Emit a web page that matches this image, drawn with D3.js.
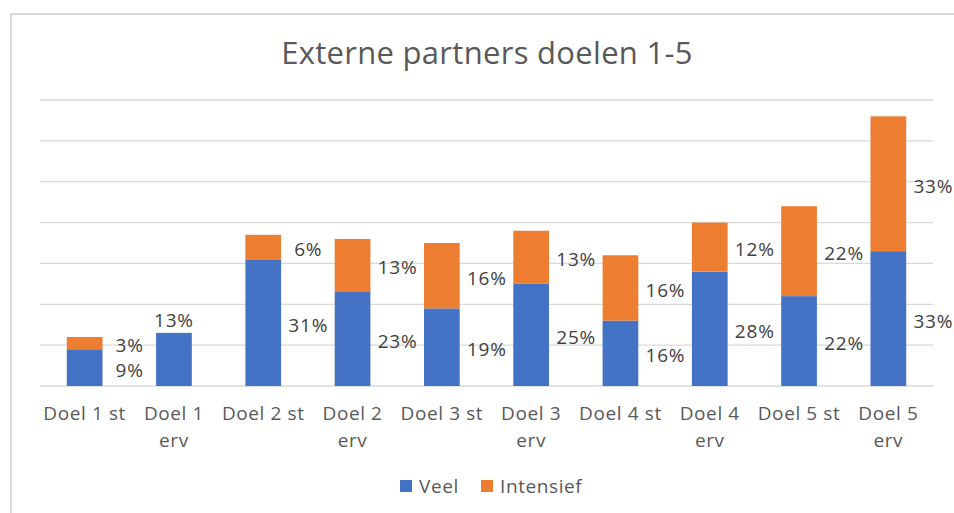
<!DOCTYPE html>
<html>
<head>
<meta charset="utf-8">
<script src="https://cdn.jsdelivr.net/npm/d3@7"></script>
<style>
  body { margin: 0; background: #fff; }
  text { font-family: "Open Sans", "DejaVu Sans", sans-serif; }
</style>
</head>
<body>
<script>
// categories + wrapped tick labels as they appear under the axis
var categories = ["d1st", "d1erv", "d2st", "d2erv", "d3st", "d3erv", "d4st", "d4erv", "d5st", "d5erv"];
var tickLabels = ["Doel 1 st", "Doel 1\nerv", "Doel 2 st", "Doel 2\nerv", "Doel 3 st",
                  "Doel 3\nerv", "Doel 4 st", "Doel 4\nerv", "Doel 5 st", "Doel 5\nerv"];

// percentages
var veel      = [9, 13, 31, 23, 19, 25, 16, 28, 22, 33];
var intensief = [3, 0, 6, 13, 16, 13, 16, 12, 22, 33];

var seriesNames = ["Veel", "Intensief"];
var seriesColours = ["#4472C4", "#ED7D31"];
var gridTicks = [0, 10, 20, 30, 40, 50, 60, 70];

var width = 954, height = 513;
var margin = {top: 100, right: 21, bottom: 127, left: 40};

var svg = d3.select("body").append("svg")
  .attr("width", width)
  .attr("height", height);

// chart frame (runs off the right and bottom edge in the screenshot)
svg.append("path")
  .attr("d", "M11," + height + "V14H" + width)
  .attr("fill", "none")
  .attr("stroke", "#d9d9d9")
  .attr("stroke-width", 2);

svg.append("text")
  .attr("x", 487)
  .attr("y", 64)
  .attr("text-anchor", "middle")
  .attr("font-size", 31)
  .attr("letter-spacing", 0.3)
  .attr("fill", "#595959")
  .text("Externe partners doelen 1-5");

var x = d3.scaleBand()
  .domain(categories)
  .range([margin.left, width - margin.right])
  .paddingInner(0.6)
  .paddingOuter(0.3);

var y = d3.scaleLinear()
  .domain([0, 70])
  .range([height - margin.bottom, margin.top]);

// gridlines
svg.append("g")
  .selectAll("line")
  .data(gridTicks)
  .enter()
    .append("line")
      .attr("x1", margin.left)
      .attr("x2", width - margin.right)
      .attr("y1", function(d) { return y(d); })
      .attr("y2", function(d) { return y(d); })
      .attr("stroke", "#d9d9d9")
      .attr("stroke-width", 1.3);

var rows = categories.map(function(c, i) {
  return {cat: c, Veel: veel[i], Intensief: intensief[i]};
});
var stacked = d3.stack().keys(seriesNames)(rows);

var layers = svg.append("g")
  .selectAll("g")
  .data(stacked)
  .enter()
    .append("g")
      .attr("fill", function(d, i) { return seriesColours[i]; });

layers.selectAll("rect")
  .data(function(d) { return d; })
  .enter()
    .append("rect")
      .attr("x", function(d) { return x(d.data.cat); })
      .attr("width", x.bandwidth())
      .attr("y", function(d) { return y(d[1]); })
      .attr("height", function(d) { return y(d[0]) - y(d[1]); });

// data labels, sitting to the right of each segment
var labelOffset = 45;
var labels = [];
stacked.forEach(function(layer) {
  layer.forEach(function(d) {
    var v = d[1] - d[0];
    if (v <= 0) return;
    var above = (d[1] === d3.sum(seriesNames, function(k) { return d.data[k]; })) &&
                layer.key === "Veel";
    var cx = x(d.data.cat) + x.bandwidth() / 2;
    labels.push({
      text: v + "%",
      x: above ? cx : cx + labelOffset,
      y: above ? y(d[1]) - 13 : y((d[0] + d[1]) / 2) + 2
    });
  });
});

svg.append("g")
  .selectAll("text")
  .data(labels)
  .enter()
    .append("text")
      .attr("x", function(d) { return d.x; })
      .attr("y", function(d) { return d.y; })
      .attr("text-anchor", "middle")
      .attr("dominant-baseline", "central")
      .attr("font-size", 19)
      .attr("letter-spacing", 0.8)
      .attr("fill", "#404040")
      .text(function(d) { return d.text; });

// category axis (no domain line, no ticks)
var xAxis = svg.append("g")
  .attr("transform", "translate(0," + (height - margin.bottom) + ")")
  .call(d3.axisBottom(x).tickSize(0).tickPadding(0).tickFormat(""));
xAxis.select(".domain").remove();

xAxis.selectAll(".tick").each(function(d, i) {
  var lines = tickLabels[i].split("\n");
  var t = d3.select(this).append("text")
    .attr("text-anchor", "middle")
    .attr("font-size", 19)
    .attr("letter-spacing", 0.6)
    .attr("fill", "#595959");
  lines.forEach(function(line, j) {
    t.append("tspan")
      .attr("x", 0)
      .attr("y", 34 + j * 27)
      .text(line);
  });
});

// legend
var legendX = [400, 481];
var legend = svg.append("g")
  .selectAll("g")
  .data(seriesNames)
  .enter()
    .append("g")
      .attr("transform", function(d, i) { return "translate(" + legendX[i] + ",480)"; });

legend.append("rect")
  .attr("width", 12)
  .attr("height", 12)
  .attr("fill", function(d, i) { return seriesColours[i]; });

legend.append("text")
  .attr("x", 19)
  .attr("y", 6)
  .attr("dominant-baseline", "central")
  .attr("font-size", 19)
  .attr("letter-spacing", 0.6)
  .attr("fill", "#595959")
  .text(function(d) { return d; });
</script>
</body>
</html>
